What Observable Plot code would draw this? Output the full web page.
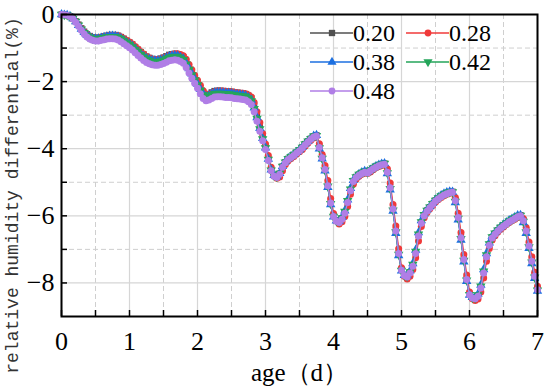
<!DOCTYPE html>
<html><head><meta charset="utf-8">
<script src="https://cdn.jsdelivr.net/npm/d3@7"></script>
<script src="https://cdn.jsdelivr.net/npm/@observablehq/plot@0.6"></script>
<style>
body{margin:0;background:#fff;}
#wrap{position:relative;width:550px;height:388px;overflow:hidden;}
#wrap svg text{font-family:"Liberation Serif","Times New Roman","DejaVu Serif",serif;}
#wrap svg text.mono{font-family:"Liberation Mono","DejaVu Sans Mono",monospace;}
.leg{position:absolute;display:flex;align-items:center;height:26px;font-family:"Liberation Serif","Times New Roman","DejaVu Serif",serif;font-size:24px;color:#000;line-height:26px;}
.leg svg{display:block;}
</style></head><body>
<div id="wrap"></div>
<script>
// hourly readings, age 0..7 d
const v020 = [0,-0.01,-0.02,-0.05,-0.11,-0.20,-0.30,-0.41,-0.51,-0.59,
-0.64,-0.68,-0.69,-0.69,-0.67,-0.65,-0.63,-0.61,-0.61,-0.61,
-0.63,-0.67,-0.72,-0.78,-0.83,-0.89,-0.97,-1.05,-1.12,-1.19,
-1.25,-1.29,-1.32,-1.33,-1.33,-1.31,-1.28,-1.24,-1.20,-1.18,
-1.17,-1.18,-1.22,-1.27,-1.40,-1.56,-1.72,-1.87,-2.02,-2.18,
-2.32,-2.39,-2.37,-2.32,-2.28,-2.27,-2.27,-2.28,-2.29,-2.29,
-2.30,-2.32,-2.33,-2.34,-2.35,-2.37,-2.42,-2.50,-2.73,-3.03,
-3.36,-3.67,-3.96,-4.31,-4.63,-4.80,-4.84,-4.74,-4.53,-4.40,
-4.30,-4.24,-4.18,-4.11,-4.04,-3.96,-3.86,-3.78,-3.70,-3.63,
-3.60,-3.94,-4.25,-4.60,-5.08,-5.60,-6.00,-6.14,-6.18,-6.08,
-5.90,-5.58,-5.23,-4.96,-4.84,-4.77,-4.72,-4.68,-4.70,-4.64,
-4.58,-4.53,-4.49,-4.46,-4.44,-4.68,-5.14,-5.78,-6.43,-7.10,
-7.60,-7.76,-7.80,-7.68,-7.48,-7.10,-6.58,-6.20,-5.98,-5.84,
-5.74,-5.64,-5.54,-5.47,-5.41,-5.36,-5.32,-5.29,-5.28,-5.53,
-6.03,-6.63,-7.28,-7.88,-8.33,-8.43,-8.45,-8.38,-8.13,-7.68,
-7.20,-6.86,-6.64,-6.53,-6.43,-6.35,-6.28,-6.22,-6.16,-6.11,
-6.06,-6.01,-5.98,-6.13,-6.43,-6.88,-7.33,-7.78,-8.18];

const v028 = [0,-0.01,-0.02,-0.05,-0.12,-0.21,-0.31,-0.42,-0.52,-0.60,
-0.65,-0.69,-0.70,-0.70,-0.68,-0.66,-0.64,-0.62,-0.62,-0.62,
-0.63,-0.67,-0.72,-0.77,-0.82,-0.88,-0.95,-1.03,-1.11,-1.18,
-1.25,-1.30,-1.33,-1.34,-1.34,-1.33,-1.30,-1.26,-1.22,-1.19,
-1.17,-1.17,-1.19,-1.23,-1.33,-1.49,-1.65,-1.81,-1.96,-2.11,
-2.27,-2.37,-2.39,-2.35,-2.30,-2.28,-2.28,-2.28,-2.29,-2.30,
-2.30,-2.32,-2.33,-2.34,-2.35,-2.36,-2.40,-2.46,-2.62,-2.90,
-3.22,-3.55,-3.86,-4.20,-4.55,-4.78,-4.88,-4.84,-4.66,-4.47,
-4.36,-4.29,-4.23,-4.16,-4.09,-4.02,-3.92,-3.83,-3.75,-3.68,
-3.62,-3.85,-4.17,-4.50,-4.95,-5.48,-5.93,-6.15,-6.24,-6.18,
-6.02,-5.72,-5.36,-5.06,-4.90,-4.82,-4.76,-4.72,-4.74,-4.69,
-4.63,-4.57,-4.53,-4.50,-4.47,-4.60,-5.02,-5.66,-6.30,-6.98,
-7.55,-7.80,-7.88,-7.80,-7.60,-7.25,-6.75,-6.32,-6.06,-5.90,
-5.79,-5.69,-5.59,-5.51,-5.45,-5.40,-5.36,-5.33,-5.31,-5.45,
-5.92,-6.50,-7.15,-7.76,-8.27,-8.47,-8.52,-8.48,-8.27,-7.85,
-7.35,-6.97,-6.72,-6.59,-6.48,-6.40,-6.33,-6.26,-6.20,-6.15,
-6.10,-6.05,-6.01,-6.08,-6.35,-6.78,-7.22,-7.68,-8.10];

const v038 = [0,-0.01,-0.02,-0.05,-0.12,-0.21,-0.32,-0.43,-0.53,-0.61,
-0.67,-0.71,-0.72,-0.72,-0.70,-0.68,-0.66,-0.64,-0.64,-0.65,
-0.67,-0.71,-0.77,-0.83,-0.88,-0.94,-1.02,-1.10,-1.17,-1.24,
-1.30,-1.34,-1.37,-1.38,-1.38,-1.36,-1.33,-1.29,-1.25,-1.23,
-1.22,-1.23,-1.27,-1.32,-1.45,-1.61,-1.77,-1.92,-2.07,-2.23,
-2.37,-2.44,-2.42,-2.37,-2.33,-2.32,-2.32,-2.33,-2.34,-2.34,
-2.35,-2.37,-2.38,-2.39,-2.40,-2.42,-2.47,-2.55,-2.78,-3.07,
-3.39,-3.69,-3.97,-4.31,-4.63,-4.79,-4.83,-4.73,-4.52,-4.39,
-4.29,-4.23,-4.17,-4.10,-4.03,-3.95,-3.85,-3.77,-3.69,-3.62,
-3.60,-4.00,-4.30,-4.66,-5.15,-5.66,-6.03,-6.15,-6.16,-6.04,
-5.85,-5.52,-5.18,-4.94,-4.83,-4.76,-4.71,-4.67,-4.69,-4.63,
-4.57,-4.52,-4.48,-4.45,-4.44,-4.74,-5.22,-5.86,-6.52,-7.18,
-7.64,-7.77,-7.78,-7.64,-7.42,-7.02,-6.50,-6.14,-5.94,-5.82,
-5.72,-5.62,-5.52,-5.45,-5.39,-5.34,-5.30,-5.28,-5.29,-5.60,
-6.12,-6.72,-7.37,-7.95,-8.36,-8.43,-8.43,-8.33,-8.06,-7.60,
-7.12,-6.80,-6.60,-6.50,-6.41,-6.33,-6.26,-6.20,-6.14,-6.09,
-6.04,-5.99,-5.98,-6.20,-6.52,-6.97,-7.42,-7.86,-8.24];

const v042 = [0,-0.01,-0.02,-0.06,-0.12,-0.21,-0.32,-0.44,-0.54,-0.63,
-0.68,-0.72,-0.74,-0.73,-0.71,-0.69,-0.67,-0.66,-0.66,-0.66,
-0.69,-0.73,-0.79,-0.85,-0.90,-0.97,-1.05,-1.12,-1.20,-1.27,
-1.33,-1.37,-1.40,-1.41,-1.41,-1.39,-1.36,-1.32,-1.28,-1.26,
-1.25,-1.26,-1.30,-1.35,-1.48,-1.64,-1.80,-1.95,-2.10,-2.26,
-2.40,-2.47,-2.45,-2.40,-2.36,-2.35,-2.35,-2.36,-2.37,-2.37,
-2.38,-2.40,-2.41,-2.42,-2.43,-2.45,-2.50,-2.58,-2.81,-3.10,
-3.41,-3.71,-3.98,-4.32,-4.64,-4.80,-4.84,-4.74,-4.53,-4.40,
-4.30,-4.24,-4.18,-4.11,-4.04,-3.96,-3.86,-3.78,-3.70,-3.63,
-3.61,-3.98,-4.29,-4.64,-5.12,-5.64,-6.02,-6.15,-6.17,-6.06,
-5.87,-5.55,-5.21,-4.95,-4.84,-4.77,-4.72,-4.68,-4.70,-4.64,
-4.58,-4.53,-4.49,-4.46,-4.44,-4.72,-5.19,-5.83,-6.48,-7.15,
-7.63,-7.77,-7.80,-7.67,-7.45,-7.06,-6.55,-6.18,-5.97,-5.84,
-5.74,-5.64,-5.54,-5.47,-5.41,-5.36,-5.32,-5.29,-5.29,-5.57,
-6.08,-6.68,-7.33,-7.92,-8.35,-8.44,-8.45,-8.36,-8.10,-7.65,
-7.17,-6.84,-6.63,-6.52,-6.43,-6.35,-6.28,-6.22,-6.16,-6.11,
-6.06,-6.01,-5.99,-6.17,-6.48,-6.93,-7.38,-7.83,-8.22];

const v048 = [0,-0.01,-0.02,-0.06,-0.13,-0.23,-0.35,-0.47,-0.58,-0.67,
-0.73,-0.77,-0.79,-0.79,-0.77,-0.75,-0.73,-0.72,-0.72,-0.73,
-0.76,-0.81,-0.87,-0.93,-0.99,-1.06,-1.14,-1.22,-1.30,-1.37,
-1.43,-1.47,-1.50,-1.51,-1.51,-1.49,-1.46,-1.42,-1.38,-1.36,
-1.35,-1.36,-1.40,-1.45,-1.58,-1.74,-1.90,-2.05,-2.20,-2.36,
-2.50,-2.57,-2.55,-2.50,-2.46,-2.45,-2.45,-2.46,-2.47,-2.47,
-2.48,-2.50,-2.51,-2.52,-2.53,-2.55,-2.60,-2.68,-2.90,-3.18,
-3.48,-3.76,-4.02,-4.35,-4.66,-4.82,-4.86,-4.76,-4.55,-4.42,
-4.32,-4.26,-4.20,-4.13,-4.06,-3.98,-3.88,-3.80,-3.72,-3.65,
-3.62,-3.96,-4.27,-4.62,-5.10,-5.62,-6.02,-6.16,-6.20,-6.10,
-5.92,-5.60,-5.25,-4.98,-4.86,-4.79,-4.74,-4.70,-4.72,-4.66,
-4.60,-4.55,-4.51,-4.48,-4.46,-4.70,-5.16,-5.80,-6.45,-7.12,
-7.62,-7.78,-7.82,-7.70,-7.50,-7.12,-6.60,-6.22,-6.00,-5.86,
-5.76,-5.66,-5.56,-5.49,-5.43,-5.38,-5.34,-5.31,-5.30,-5.55,
-6.05,-6.65,-7.30,-7.90,-8.35,-8.45,-8.47,-8.40,-8.15,-7.70,
-7.22,-6.88,-6.66,-6.55,-6.45,-6.37,-6.30,-6.24,-6.18,-6.13,
-6.08,-6.03,-6.00,-6.15,-6.45,-6.90,-7.35,-7.80,-8.20];

const seriesNames = ["0.20", "0.28", "0.38", "0.42", "0.48"];
const seriesColors = ["#505050", "#f03a3a", "#1c6fe0", "#25a55a", "#b07ee6"];
const seriesSymbols = ["square", "circle", "triangle", "triangle", "circle"];
const seriesRotate = [0, 0, 0, 180, 0];
const seriesValues = [v020, v028, v038, v042, v048];

const xMajorTicks = [0, 1, 2, 3, 4, 5, 6, 7];
const xMinorTicks = [0.5, 1.5, 2.5, 3.5, 4.5, 5.5, 6.5];
const yMajorTicks = [0, -2, -4, -6, -8];
const yMinorTicks = [-1, -3, -5, -7];

const hoursPerDay = 24;
const series = seriesNames.map((name, k) => ({
  name, color: seriesColors[k], symbol: seriesSymbols[k], rotate: seriesRotate[k],
  rows: seriesValues[k].map((v, i) => ({age: i / hoursPerDay, rh: v}))
}));

const seriesMarks = series.flatMap(s => [
  Plot.line(s.rows, {x: "age", y: "rh", stroke: s.color, strokeWidth: 1.4}),
  Plot.dot(s.rows, {x: "age", y: "rh", symbol: s.symbol, fill: s.color, stroke: "none", r: 3.5, rotate: s.rotate})
]);

const chart = Plot.plot({
  width: 550, height: 388,
  marginLeft: 61, marginRight: 13, marginTop: 14, marginBottom: 72,
  x: {domain: [0, 7]},
  y: {domain: [-9, 0]},
  style: {fontSize: "26px", background: "white", color: "black", overflow: "visible"},
  marks: [
    Plot.ruleX(xMinorTicks, {stroke: "#cfcfcf", strokeWidth: 1, strokeDasharray: "5,3"}),
    Plot.ruleY(yMinorTicks, {stroke: "#cfcfcf", strokeWidth: 1, strokeDasharray: "5,3"}),
    Plot.ruleX(xMajorTicks, {stroke: "#d6d6d6", strokeWidth: 1.2}),
    Plot.ruleY(yMajorTicks, {stroke: "#d6d6d6", strokeWidth: 1.2}),
    ...seriesMarks,
    Plot.axisX(xMajorTicks.concat(xMinorTicks), {tickSize: -6, tickFormat: () => "", strokeWidth: 1.5, label: null}),
    Plot.axisY(yMajorTicks.concat(yMinorTicks), {tickSize: -6, tickFormat: () => "", strokeWidth: 1.5, label: null}),
    Plot.axisX(xMajorTicks, {tickSize: 0, tickPadding: 15, label: null, fontSize: 26}),
    Plot.axisY(yMajorTicks, {tickSize: 0, tickPadding: 7, label: null, fontSize: 26}),
    Plot.frame({stroke: "black", strokeWidth: 2}),
    Plot.text(["age（d）"], {frameAnchor: "bottom", lineAnchor: "middle", dy: 56, fontSize: 25}),
    Plot.text(["relative humidity differential(%)"], {frameAnchor: "left", textAnchor: "middle", lineAnchor: "middle", rotate: -90, dx: -49, dy: 30, fontSize: 18, fill: "#333", className: "ylab"})
  ]
});

const wrap = document.getElementById("wrap");
wrap.appendChild(chart);
// monospace face for the y-axis title
d3.select(chart).selectAll("text").filter(function() { return this.textContent === "relative humidity differential(%)"; }).classed("mono", true);

// legend
const legendPos = [[310, 33], [406, 33], [310, 62], [406, 62], [310, 91]];
const symbolPath = {
  square: d3.symbol(d3.symbolSquare, 40)(),
  circle: d3.symbol(d3.symbolCircle, 36)(),
  triangle: d3.symbol(d3.symbolTriangle, 36)()
};
series.forEach((s, k) => {
  const [lx, ly] = legendPos[k];
  const div = document.createElement("div");
  div.className = "leg";
  div.style.left = lx + "px";
  div.style.top = (ly - 13) + "px";
  div.innerHTML = `<svg width="43" height="26"><line x1="0" x2="43" y1="13" y2="13" stroke="${s.color}" stroke-width="1.6"/><path d="${symbolPath[s.symbol]}" transform="translate(22,13) rotate(${s.rotate})" fill="${s.color}"/></svg><span>${s.name}</span>`;
  wrap.appendChild(div);
});
</script>
</body></html>
